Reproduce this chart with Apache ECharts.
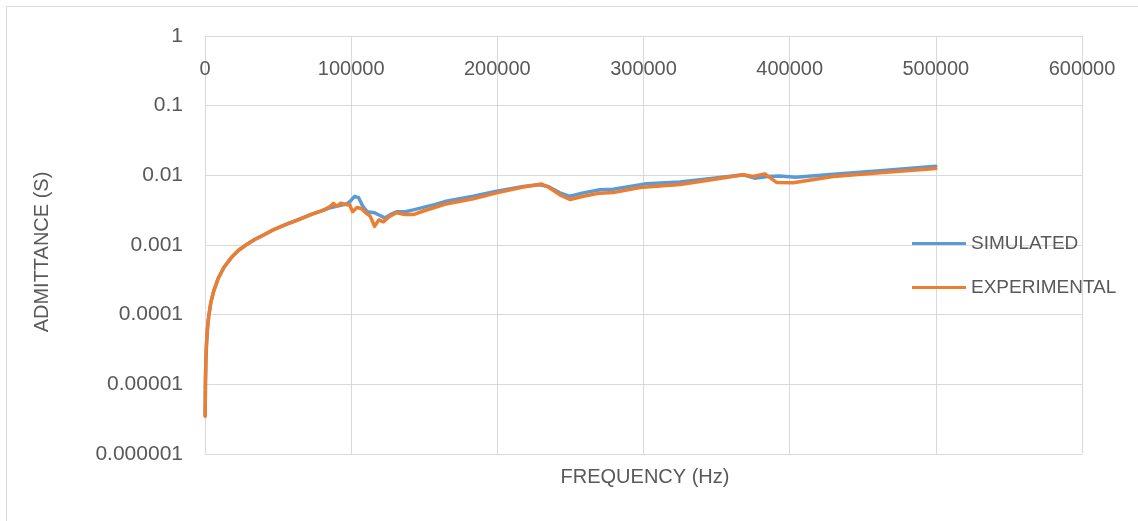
<!DOCTYPE html>
<html>
<head>
<meta charset="utf-8">
<title>Admittance vs Frequency</title>
<script src="https://cdn.jsdelivr.net/npm/echarts@6/dist/echarts.min.js"></script>
<style>
  html, body { margin: 0; padding: 0; background: #fff; }
  #chart { width: 1138px; height: 521px; }
</style>
</head>
<body>
<div id="chart"></div>
<script>
// Frequency (Hz) and admittance (S) samples for each curve
const simFreq = [100, 300, 600, 1000, 1600, 2500, 4000, 6000, 9000, 13000, 18000, 23000, 28000, 34000, 39000,
  46000, 50000, 57000, 62000, 68000, 73000, 78000, 82000, 85000, 90000, 95000, 98000, 100000, 102500, 105000,
  108000, 111000, 116000, 119000, 123000, 127000, 131000, 137000, 144000, 150000, 157000, 164000, 183500,
  199500, 217700, 229000, 234800, 242800, 249700, 258800, 270200, 279300, 302000, 324900, 347700, 368200,
  376000, 385000, 393000, 404000, 430000, 464000, 500000];
const simAdm = [3.5e-6, 1.1e-5, 2.2e-5, 3.7e-5, 6.0e-5, 9.3e-5, 1.5e-4, 2.2e-4, 3.3e-4, 4.8e-4, 6.6e-4, 8.4e-4, 1.0e-3, 1.2e-3, 1.36e-3,
  1.63e-3, 1.78e-3, 2.04e-3, 2.24e-3, 2.52e-3, 2.78e-3, 3.02e-3, 3.2e-3, 3.4e-3, 3.6e-3, 3.8e-3, 4.0e-3, 4.4e-3, 5.0e-3, 4.8e-3,
  3.6e-3, 3.0e-3, 2.9e-3, 2.7e-3, 2.45e-3, 2.75e-3, 3.0e-3, 3.0e-3, 3.25e-3, 3.5e-3, 3.8e-3, 4.2e-3, 5.0e-3,
  5.9e-3, 6.9e-3, 7.3e-3, 6.9e-3, 5.6e-3, 5.0e-3, 5.6e-3, 6.2e-3, 6.3e-3, 7.6e-3, 8.0e-3, 9.1e-3, 1.02e-2,
  9.1e-3, 9.6e-3, 9.8e-3, 9.4e-3, 1.04e-2, 1.17e-2, 1.35e-2];

const expFreq = [100, 300, 600, 1000, 1600, 2500, 4000, 6000, 9000, 13000, 18000, 23000, 28000, 34000, 39000,
  46000, 50000, 57000, 62000, 68000, 73000, 78000, 82000, 85000, 88000, 90000, 93000, 96000, 99000, 101000,
  104000, 107000, 110000, 113000, 116000, 119000, 122000, 126000, 131000, 136000, 143000, 150000, 157000,
  164000, 183500, 199500, 217700, 230300, 234800, 242800, 249700, 258800, 270200, 279300, 297500, 324900,
  347700, 368200, 375000, 383000, 391000, 402400, 429800, 464000, 500000];
const expAdm = [3.5e-6, 1.1e-5, 2.2e-5, 3.7e-5, 6.0e-5, 9.3e-5, 1.5e-4, 2.2e-4, 3.3e-4, 4.8e-4, 6.6e-4, 8.4e-4, 1.0e-3, 1.2e-3, 1.35e-3,
  1.62e-3, 1.76e-3, 2.02e-3, 2.22e-3, 2.5e-3, 2.75e-3, 3.0e-3, 3.25e-3, 3.5e-3, 3.95e-3, 3.6e-3, 4.0e-3, 3.8e-3, 3.75e-3, 3.0e-3,
  3.45e-3, 3.35e-3, 2.9e-3, 2.6e-3, 1.85e-3, 2.3e-3, 2.15e-3, 2.55e-3, 2.9e-3, 2.75e-3, 2.75e-3, 3.1e-3, 3.45e-3,
  3.85e-3, 4.6e-3, 5.6e-3, 6.8e-3, 7.5e-3, 6.8e-3, 5.25e-3, 4.5e-3, 5.0e-3, 5.55e-3, 5.65e-3, 6.7e-3, 7.4e-3,
  8.7e-3, 1.02e-2, 9.6e-3, 1.05e-2, 7.9e-3, 7.8e-3, 9.6e-3, 1.1e-2, 1.25e-2];

const seriesNames = ['SIMULATED', 'EXPERIMENTAL'];
const seriesColors = ['#5B9BD5', '#ED7D31'];

// Axis ranges and titles
const xMin = 0, xMax = 600000, xStep = 100000;
const yMin = 0.000001, yMax = 1;
const xTitle = 'FREQUENCY (Hz)';
const yTitle = 'ADMITTANCE (S)';

const FONT = 'Liberation Sans';
const TEXT = '#595959';
const GRID = '#D9D9D9';

const pairs = (xs, ys) => xs.map((x, i) => [x, ys[i]]);

const chart = echarts.init(document.getElementById('chart'), null, { renderer: 'canvas' });

chart.setOption({
  animation: false,
  backgroundColor: '#fff',
  grid: { left: 205, right: 56, top: 36, bottom: 67, containLabel: false },
  xAxis: {
    type: 'value',
    position: 'top',
    min: xMin, max: xMax, interval: xStep,
    axisLine: { show: true, lineStyle: { color: GRID, width: 1 } },
    axisTick: { show: false },
    axisLabel: {
      inside: true, margin: 23,
      color: TEXT, fontFamily: FONT, fontSize: 20,
      formatter: v => String(v)
    },
    splitLine: { show: true, lineStyle: { color: GRID, width: 1 } }
  },
  yAxis: {
    type: 'log',
    logBase: 10,
    min: yMin, max: yMax,
    axisLine: { show: true, lineStyle: { color: GRID, width: 1 } },
    axisTick: { show: false },
    axisLabel: {
      margin: 22,
      color: TEXT, fontFamily: FONT, fontSize: 21,
      formatter: v => {
        const d = Math.max(0, -Math.round(Math.log10(v)));
        return v.toFixed(d);
      }
    },
    splitLine: { show: true, lineStyle: { color: GRID, width: 1 } }
  },
  legend: {
    orient: 'vertical',
    left: 907, top: 229,
    itemWidth: 54, itemHeight: 3, itemGap: 25,
    icon: 'rect',
    textStyle: { color: TEXT, fontFamily: FONT, fontSize: 19 },
    data: seriesNames
  },
  series: [
    {
      name: seriesNames[0], type: 'line', data: pairs(simFreq, simAdm),
      showSymbol: false, color: seriesColors[0],
      lineStyle: { width: 3.5, color: seriesColors[0], join: 'round', cap: 'round' }
    },
    {
      name: seriesNames[1], type: 'line', data: pairs(expFreq, expAdm),
      showSymbol: false, color: seriesColors[1],
      lineStyle: { width: 3.5, color: seriesColors[1], join: 'round', cap: 'round' }
    }
  ],
  graphic: [
    {
      type: 'rect', silent: true, z: -1,
      shape: { x: 6.5, y: 6.5, width: 1150, height: 530 },
      style: { fill: 'none', stroke: GRID, lineWidth: 1 }
    },
    {
      type: 'text', silent: true,
      x: 42, y: 252, rotation: Math.PI / 2,
      style: { text: yTitle, fill: TEXT, font: '20px "' + FONT + '"', align: 'center', verticalAlign: 'middle' }
    },
    {
      type: 'text', silent: true,
      x: 645, y: 477,
      style: { text: xTitle, fill: TEXT, font: '20px "' + FONT + '"', align: 'center', verticalAlign: 'middle' }
    }
  ]
});
</script>
</body>
</html>
